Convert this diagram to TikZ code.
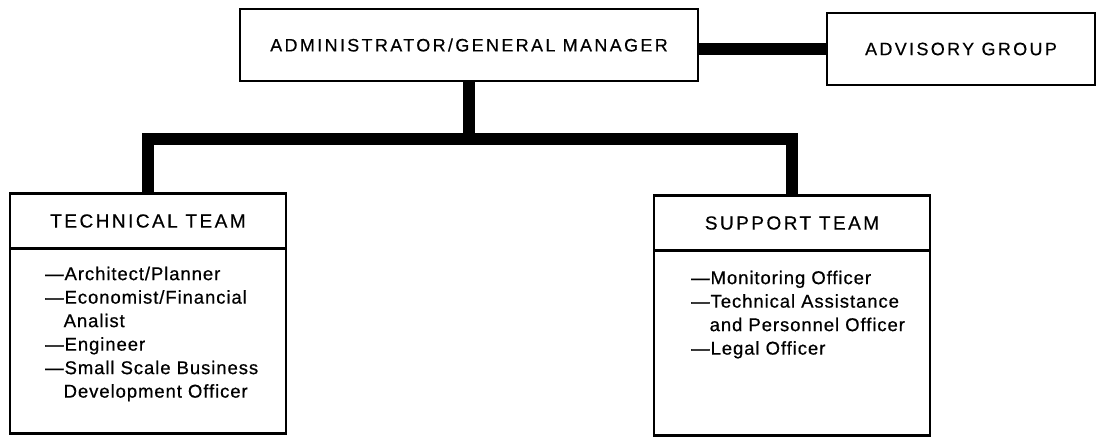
\documentclass[tikz,border=0pt]{standalone}
\usepackage{fontspec}
\setmainfont{Liberation Sans}
\newfontfamily\headfont[LetterSpace=13,FakeBold=0.4]{Liberation Sans}
\newfontfamily\listfont[LetterSpace=5,FakeBold=0.6]{Liberation Sans}
\usetikzlibrary{positioning}
\tikzset{
  unitbox/.style={draw, line width=2.5bp, inner sep=0pt, outer sep=0pt,
    font=\headfont\fontsize{18bp}{22bp}\selectfont},
  teamhead/.style={unitbox, minimum width=276bp, minimum height=55bp,
    font=\headfont\fontsize{19bp}{22bp}\selectfont},
  teambody/.style={draw, line width=2.5bp, inner sep=0pt, outer sep=0pt,
    minimum width=276bp, minimum height=185bp},
  itemlist/.style={inner sep=0pt, align=left,
    font=\listfont\fontsize{18.5bp}{23.5bp}\selectfont},
  link/.style={line width=12bp},
}
\begin{document}
\begin{tikzpicture}[line join=miter]
\useasboundingbox (0bp,0bp) rectangle (1097bp,-437bp);
  % Node: Admin
  \node[unitbox, minimum width=458bp, minimum height=72bp] (admin) at (469bp,-45bp) {ADMINISTRATOR/GENERAL MANAGER};
  % Node: Advisory
  \node[unitbox, minimum width=268bp, minimum height=72bp] (advisory) at (961bp,-49bp) {ADVISORY GROUP};
  % Node: Technical
  \node[teamhead] (tech) at (148bp,-221bp) {TECHNICAL TEAM};
  \node[teambody, below=0bp of tech] (techbody) {};
  \node[itemlist, anchor=north west] (techitems) at ([xshift=35bp,yshift=-18bp]techbody.north west)
    {—Architect/Planner\\—Economist/Financial\\\phantom{—}Analist\\—Engineer\\—Small Scale Business\\\phantom{—}Development Officer};
  % Node: Support
  \node[teamhead] (support) at (792bp,-223bp) {SUPPORT TEAM};
  \node[teambody, below=0bp of support] (supportbody) {};
  \node[itemlist, anchor=north west] (supportitems) at ([xshift=37bp,yshift=-20bp]supportbody.north west)
    {—Monitoring Officer\\—Technical Assistance\\\phantom{—}and Personnel Officer\\—Legal Officer};
  % Edge: Admin -> Advisory
  \draw[link] (advisory.west) -- (advisory.west -| admin.east);
  % Edge: Admin -> Technical, Support
  \coordinate (bar) at ([yshift=-58bp]admin.south);
  \draw[link] (admin.south) -- (bar);
  \draw[link] (tech.north) |- (bar) -| (support.north);
\end{tikzpicture}
\end{document}
